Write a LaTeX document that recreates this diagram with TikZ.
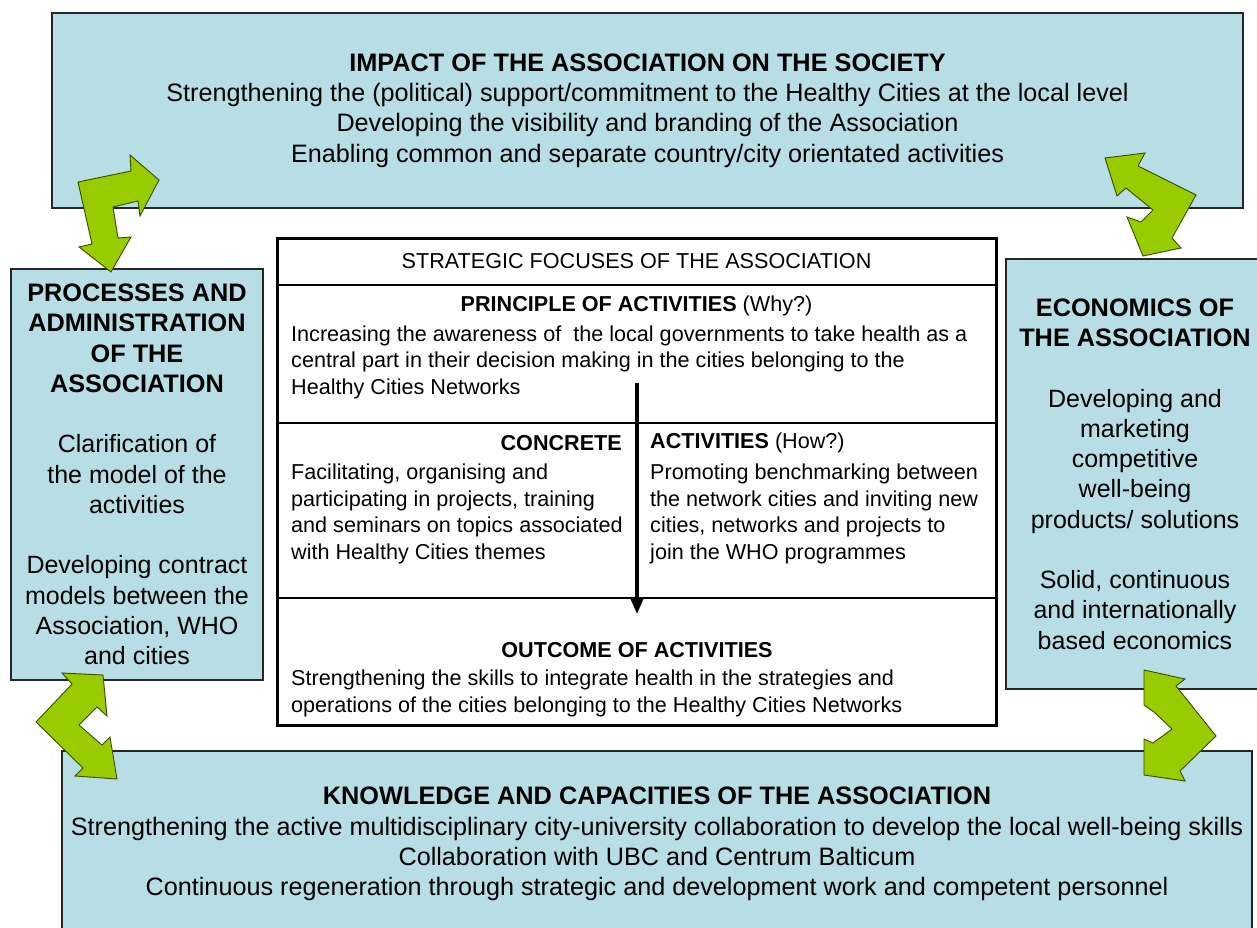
\documentclass[tikz,border=0pt]{standalone}
\usepackage{fontspec}
\setmainfont{Liberation Sans}
\usepackage{xcolor}
\definecolor{boxblue}{RGB}{183,222,228}
\definecolor{arrowgreen}{RGB}{153,204,0}
\definecolor{arrowedge}{RGB}{55,75,0}
\usetikzlibrary{arrows.meta}
\newcommand{\bodyfont}{\fontsize{25.2}{30.25}\selectfont}
\newcommand{\sidefont}{\fontsize{25}{30.25}\selectfont}
\newcommand{\focusfont}{\fontsize{21.6}{26.5}\selectfont}
\newcommand{\hd}[1]{{\bfseries\fontsize{25.3}{30.25}\selectfont #1}}
\newcommand{\fhd}[1]{{\bfseries #1}}
\tikzset{
    common/.style={draw=black!85, line width=1.2pt, inner sep=0pt},
    outerbox/.style={common, fill=boxblue, align=center},
    focusbox/.style={draw, line width=3pt, fill=white},
    divider/.style={line width=1.2pt},
    focustext/.style={align=left, font=\focusfont, inner sep=0pt},
    greenarrow/.style={fill=arrowgreen, draw=arrowedge, line width=0.9pt, line join=miter},
    flow/.style={line width=3.2pt, -{Triangle[width=12pt,length=15pt]}}
}

\begin{document}
\begin{tikzpicture}[x=1pt, y=-1pt]
    \useasboundingbox (0,0) rectangle (1257,927);

    % the four blue boxes
    \node[outerbox, font=\bodyfont, minimum width=1191, minimum height=195] (impact) at (647.5,110.5)
        {\hd{IMPACT OF THE ASSOCIATION ON THE SOCIETY}\\
         Strengthening the (political) support/commitment to the Healthy Cities at the local level\\
         Developing the visibility and branding of the Association\\
         Enabling common and separate country/city orientated activities};
    \node[outerbox, font=\sidefont, minimum width=252, minimum height=411] (processes) at (137,474.5)
        {\hd{PROCESSES AND}\\\hd{ADMINISTRATION}\\\hd{OF THE}\\\hd{ASSOCIATION}\\ \\
         Clarification of\\the model of the\\activities\\ \\
         Developing contract\\models between the\\Association, WHO\\and cities};
    \node[outerbox, font=\sidefont, minimum width=258, minimum height=430] (economics) at (1135,474)
        {\hd{ECONOMICS OF}\\\hd{THE ASSOCIATION}\\ \\
         Developing and\\marketing\\competitive\\well-being\\products/ solutions\\ \\
         Solid, continuous\\and internationally\\based economics};
    \node[outerbox, font=\bodyfont, minimum width=1190, minimum height=186] (knowledge) at (657,844)
        {\hd{KNOWLEDGE AND CAPACITIES OF THE ASSOCIATION}\\
         Strengthening the active multidisciplinary city-university collaboration to develop the local well-being skills\\
         Collaboration with UBC and Centrum Balticum\\
         Continuous regeneration through strategic and development work and competent personnel};

    % strategic focuses
    \node[focusbox, minimum width=719, minimum height=487] (focus) at (636.5,481.5) {};
    \draw[divider] (focus.west |- 0,285) -- (focus.east |- 0,285);
    \draw[divider] (focus.west |- 0,423) -- (focus.east |- 0,423);
    \draw[divider] (focus.west |- 0,598) -- (focus.east |- 0,598);

    \node[focustext] (focushead) at (636.5,261) {STRATEGIC FOCUSES OF THE ASSOCIATION};
    \node[focustext] (principlehead) at (636.5,306) {\fhd{PRINCIPLE OF ACTIVITIES} (Why?)};
    \node[focustext, anchor=west] (principletext) at (291,362)
        {Increasing the awareness of\ \ the local governments to take health as a\\
         central part in their decision making in the cities belonging to the\\
         Healthy Cities Networks};
    \node[focustext, anchor=east] (concretehead) at (622,443) {\fhd{CONCRETE}};
    \node[focustext, anchor=west] (activitieshead) at (650,443) {\fhd{ACTIVITIES} (How?)};
    \node[focustext, anchor=west] (concretetext) at (291,514)
        {Facilitating, organising and\\participating in projects, training\\
         and seminars on topics associated\\with Healthy Cities themes};
    \node[focustext, anchor=west] (activitiestext) at (650,514)
        {Promoting benchmarking between\\the network cities and inviting new\\
         cities, networks and projects to\\join the WHO programmes};
    \node[focustext] (outcomehead) at (637,650) {\fhd{OUTCOME OF ACTIVITIES}};
    \node[focustext, anchor=west] (outcometext) at (291,693.5)
        {Strengthening the skills to integrate health in the strategies and\\
         operations of the cities belonging to the Healthy Cities Networks};

    \coordinate (flowstart) at (637,383);
    \coordinate (flowend) at (637,614);
    \draw[flow] (flowstart) -- (flowend);

    % green two-headed arrows between the boxes
    \draw[greenarrow] (78,182) -- (131,171) -- (130,155) -- (159,180) -- (140,216) -- (138,201)
        -- (113,207) -- (118,238) -- (131,237) -- (111,272) -- (79,247) -- (92,244) -- cycle;
    \draw[greenarrow] (1105,158) -- (1145,153) -- (1138,166) -- (1196,195) -- (1172,238) -- (1181,248)
        -- (1143,256) -- (1127,217) -- (1141,222) -- (1153,210) -- (1126,188) -- (1117,196) -- cycle;
    \draw[greenarrow] (62,673) -- (103,675) -- (107,716) -- (97,707) -- (79,725) -- (102,745)
        -- (110,737) -- (117,779) -- (75,776) -- (83,768) -- (36,722) -- (72,684) -- cycle;
    \draw[greenarrow] (1144,670) -- (1185,679) -- (1176,686) -- (1216,736) -- (1180,771) -- (1185,781)
        -- (1144,775) -- (1144,739) -- (1153,743) -- (1172,729) -- (1154,712) -- (1144,705) -- cycle;
\end{tikzpicture}
\end{document}
